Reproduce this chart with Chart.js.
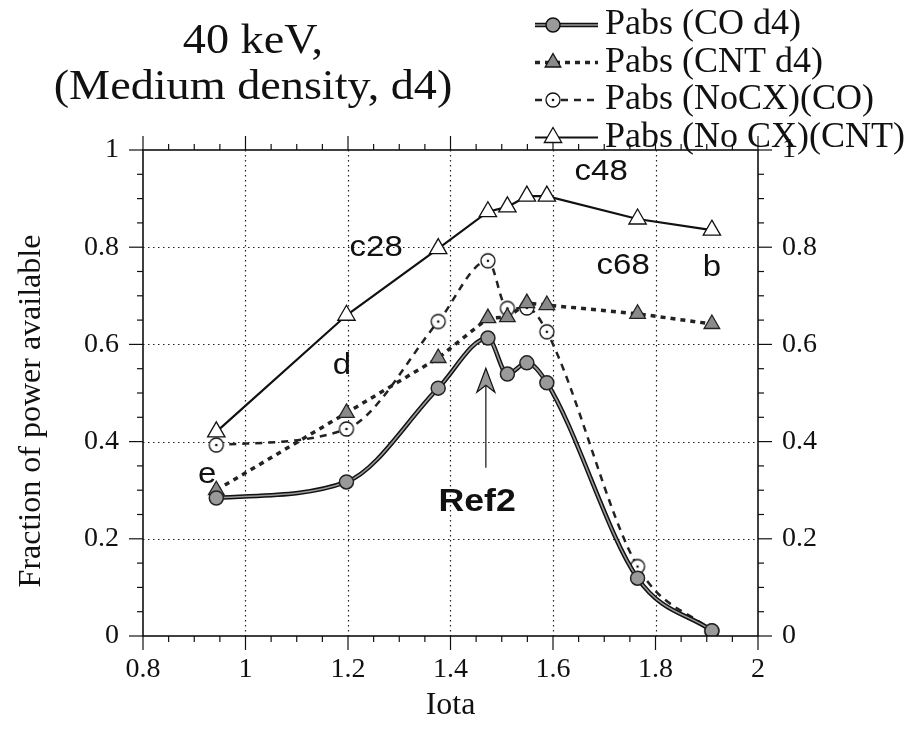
<!DOCTYPE html>
<html>
<head>
<meta charset="utf-8">
<script src="https://cdn.jsdelivr.net/npm/chart.js@4.4.0/dist/chart.umd.min.js"></script>
<style>
    html, body { margin: 0; padding: 0; background: #fff; }
    #wrap { width: 916px; height: 730px; }
</style>
</head>
<body>
<div id="wrap"><canvas id="myChart"></canvas></div>
<script>
// data
const iota = [0.943, 1.197, 1.376, 1.473, 1.511, 1.549, 1.588, 1.765, 1.910];
const pabsCO = [0.284, 0.317, 0.510, 0.613, 0.539, 0.562, 0.521, 0.119, 0.011];
const pabsCNT = [0.300, 0.459, 0.572, 0.654, 0.656, 0.685, 0.681, 0.663, 0.642];
const pabsNoCxCO = [0.393, 0.426, 0.647, 0.772, 0.674, 0.675, 0.626, 0.143, 0.010];
const pabsNoCxCNT = [0.420, 0.660, 0.797, 0.873, 0.883, 0.905, 0.905, 0.858, 0.835];

const seriesNames = ['Pabs (CO d4)', 'Pabs (CNT d4)', 'Pabs (NoCX)(CO)', 'Pabs (No CX)(CNT)'];
const xTicks = [0.8, 1, 1.2, 1.4, 1.6, 1.8, 2];
const xTickLabels = ['0.8', '1', '1.2', '1.4', '1.6', '1.8', '2'];
const yTicks = [0, 0.2, 0.4, 0.6, 0.8, 1];
const yTickLabels = ['0', '0.2', '0.4', '0.6', '0.8', '1'];

// text labels placed in data coordinates
const noteText = ['c48', 'c28', 'c68', 'b', 'd', 'e'];
const noteX = [1.694, 1.255, 1.737, 1.910, 1.188, 0.925];
const noteY = [0.955, 0.798, 0.761, 0.757, 0.556, 0.331];

const SERIF = '"Liberation Serif", "Times New Roman", serif';
const SANS = '"Liberation Sans", Arial, sans-serif';

function dotCircle(r) {
    const c = document.createElement('canvas');
    const s = 2 * r + 4;
    c.width = s; c.height = s;
    const g = c.getContext('2d');
    g.beginPath();
    g.arc(s / 2, s / 2, r, 0, Math.PI * 2);
    g.fillStyle = '#fff';
    g.fill();
    g.lineWidth = 1.3;
    g.strokeStyle = '#111';
    g.stroke();
    g.beginPath();
    g.arc(s / 2, s / 2, 1.3, 0, Math.PI * 2);
    g.fillStyle = '#111';
    g.fill();
    return c;
}
const openDot = dotCircle(7);

function toPoints(ys) {
    return iota.map((x, i) => ({ x: x, y: ys[i] }));
}

function stretchText(ctx, text, x, y, font, sx, align) {
    ctx.save();
    ctx.font = font;
    ctx.textAlign = align || 'center';
    ctx.textBaseline = 'middle';
    ctx.translate(x, y);
    ctx.scale(sx, 1);
    ctx.fillText(text, 0, 0);
    ctx.restore();
}

function seg(ctx, x1, y1, x2, y2) {
    ctx.beginPath();
    ctx.moveTo(x1, y1);
    ctx.lineTo(x2, y2);
    ctx.stroke();
}

// outline under the gray CO d4 line, so it reads as a double line
const doubleLine = {
    id: 'doubleLine',
    beforeDatasetDraw(chart, args) {
        if (args.index !== 0) return;
        const line = args.meta.dataset;
        const ctx = chart.ctx;
        line.updateControlPoints(chart.chartArea, 'x');
        ctx.save();
        ctx.beginPath();
        line.path(ctx);
        ctx.lineWidth = 4.5;
        ctx.strokeStyle = '#111';
        ctx.stroke();
        ctx.restore();
    }
};

const frame = {
    id: 'frame',
    beforeDatasetsDraw(chart) {
        const { ctx, chartArea: a, scales: { x, y } } = chart;
        ctx.save();
        ctx.strokeStyle = '#222';
        ctx.lineWidth = 1.2;
        ctx.setLineDash([1.5, 3.5]);
        xTicks.slice(1, -1).forEach(v => {
            const px = Math.round(x.getPixelForValue(v)) + 0.5;
            seg(ctx, px, a.top, px, a.bottom);
        });
        yTicks.slice(1, -1).forEach(v => {
            const py = Math.round(y.getPixelForValue(v)) + 0.5;
            seg(ctx, a.left, py, a.right, py);
        });
        ctx.restore();
    },
    afterDatasetsDraw(chart) {
        const { ctx, chartArea: a, scales: { x, y } } = chart;
        ctx.save();
        ctx.strokeStyle = '#111';
        ctx.fillStyle = '#111';
        ctx.lineWidth = 1.6;
        ctx.strokeRect(a.left, a.top, a.right - a.left, a.bottom - a.top);

        // ticks, major and minor, drawn outward
        ctx.lineWidth = 1.2;
        for (let i = 0; i <= 24; i++) {
            const px = x.getPixelForValue(0.8 + i * 0.05);
            const len = i % 4 === 0 ? 14 : 6;
            seg(ctx, px, a.bottom, px, a.bottom + len);
            seg(ctx, px, a.top, px, a.top - len);
        }
        for (let i = 0; i <= 20; i++) {
            const py = y.getPixelForValue(i * 0.05);
            const len = i % 4 === 0 ? 14 : 6;
            seg(ctx, a.left, py, a.left - len, py);
            seg(ctx, a.right, py, a.right + len, py);
        }

        // tick labels
        ctx.font = '28px ' + SERIF;
        ctx.textBaseline = 'middle';
        ctx.textAlign = 'center';
        xTicks.forEach((v, i) => ctx.fillText(xTickLabels[i], x.getPixelForValue(v), a.bottom + 34));
        yTicks.forEach((v, i) => {
            const py = y.getPixelForValue(v);
            ctx.textAlign = 'right';
            ctx.fillText(yTickLabels[i], a.left - 24, py);
            ctx.textAlign = 'left';
            ctx.fillText(yTickLabels[i], a.right + 24, py);
        });

        // axis titles
        ctx.textAlign = 'center';
        ctx.font = '32px ' + SERIF;
        ctx.fillText('Iota', (a.left + a.right) / 2, a.bottom + 70);
        ctx.save();
        ctx.translate(32, (a.top + a.bottom) / 2 + 18);
        ctx.rotate(-Math.PI / 2);
        ctx.fillText('Fraction of power available', 0, 0);
        ctx.restore();

        // point notes
        noteText.forEach((t, i) => {
            stretchText(ctx, t, x.getPixelForValue(noteX[i]), y.getPixelForValue(noteY[i]), '30px ' + SANS, 1.1);
        });

        // Ref 2 arrow
        const ax = x.getPixelForValue(1.469);
        const ay0 = y.getPixelForValue(0.346);
        const ay1 = y.getPixelForValue(0.551);
        ctx.lineWidth = 1.2;
        seg(ctx, ax, ay0, ax, ay1 + 14);
        ctx.beginPath();
        ctx.moveTo(ax, ay1);
        ctx.lineTo(ax + 9, ay1 + 24);
        ctx.lineTo(ax, ay1 + 17);
        ctx.lineTo(ax - 9, ay1 + 24);
        ctx.closePath();
        ctx.fillStyle = '#999';
        ctx.fill();
        ctx.stroke();
        ctx.fillStyle = '#111';
        stretchText(ctx, 'Ref2', x.getPixelForValue(1.452), y.getPixelForValue(0.274), '600 31px ' + SANS, 1.15);

        // title
        stretchText(ctx, '40 keV,', 253, 42, '42px ' + SERIF, 1.1);
        stretchText(ctx, '(Medium density, d4)', 253, 88, '42px ' + SERIF, 1.1);

        // legend
        [0, 1, 2, 3].forEach(i => {
            const ds = chart.data.datasets[i];
            const ly = 25 + i * 37.5;
            ctx.save();
            if (i === 0) {
                ctx.lineWidth = 4.5; ctx.strokeStyle = '#111';
                seg(ctx, 535, ly, 598, ly);
            }
            ctx.lineWidth = ds.borderWidth;
            ctx.strokeStyle = ds.borderColor;
            ctx.setLineDash(ds.borderDash || []);
            seg(ctx, 535, ly, 598, ly);
            ctx.restore();
            ctx.save();
            ctx.fillStyle = ds.pointBackgroundColor || '#fff';
            ctx.strokeStyle = '#111';
            ctx.lineWidth = ds.pointBorderWidth;
            Chart.helpers.drawPoint(ctx, {
                pointStyle: ds.pointStyle, radius: ds.pointRadius, borderWidth: ds.pointBorderWidth, rotation: 0
            }, 553, ly);
            ctx.restore();
            ctx.fillStyle = '#111';
            stretchText(ctx, seriesNames[i], 605, ly, '36px ' + SERIF, 1.0, 'left');
        });
        ctx.restore();
    }
};

const ctx = document.getElementById('myChart');
new Chart(ctx, {
    type: 'line',
    data: {
        datasets: [{
            label: seriesNames[0],
            data: toPoints(pabsCO),
            borderColor: '#9a9a9a',
            borderWidth: 1.6,
            cubicInterpolationMode: 'monotone',
            pointStyle: 'circle',
            pointRadius: 7,
            pointBackgroundColor: '#9a9a9a',
            pointBorderColor: '#222',
            pointBorderWidth: 1.5
        }, {
            label: seriesNames[1],
            data: toPoints(pabsCNT),
            borderColor: '#222',
            borderWidth: 3.5,
            borderDash: [5, 5],
            pointStyle: 'triangle',
            pointRadius: 9,
            pointBackgroundColor: '#8a8a8a',
            pointBorderColor: '#222',
            pointBorderWidth: 1.3
        }, {
            label: seriesNames[2],
            data: toPoints(pabsNoCxCO),
            borderColor: '#222',
            borderWidth: 2.5,
            borderDash: [7, 6],
            cubicInterpolationMode: 'monotone',
            pointStyle: openDot,
            pointRadius: 7,
            pointBorderWidth: 1.3
        }, {
            label: seriesNames[3],
            data: toPoints(pabsNoCxCNT),
            borderColor: '#111',
            borderWidth: 2.2,
            pointStyle: 'triangle',
            pointRadius: 10,
            pointBackgroundColor: '#fff',
            pointBorderColor: '#111',
            pointBorderWidth: 1.3
        }]
    },
    options: {
        responsive: true,
        maintainAspectRatio: false,
        animation: false,
        layout: { padding: { left: 143, right: 158, top: 150, bottom: 94 } },
        scales: {
            x: { type: 'linear', min: 0.8, max: 2, display: false },
            y: { min: 0, max: 1, display: false }
        },
        plugins: {
            legend: { display: false },
            tooltip: { enabled: false }
        }
    },
    plugins: [doubleLine, frame]
});
</script>
</body>
</html>
